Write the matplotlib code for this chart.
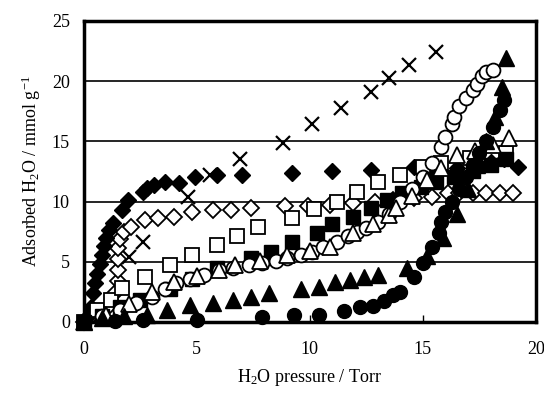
import matplotlib
matplotlib.use("Agg")
import matplotlib.pyplot as plt

plt.rcParams['font.family'] = ['Liberation Serif', 'DejaVu Serif']
plt.rcParams['mathtext.fontset'] = 'custom'
plt.rcParams['mathtext.rm'] = 'Liberation Serif'
plt.rcParams['mathtext.it'] = 'Liberation Serif:italic'

# crosses
cross_x = [2.0, 2.6, 4.6, 5.6, 6.9, 8.8, 10.1, 11.4, 12.7, 13.5, 14.4, 15.6]
cross_y = [5.4, 6.6, 10.4, 12.2, 13.5, 14.9, 16.4, 17.8, 19.1, 20.3, 21.3, 22.4]

# filled diamonds
fd_x = [0.1, 0.3, 0.4, 0.5, 0.6, 0.7, 0.8, 0.9, 1.0, 1.1, 1.3, 1.7, 1.95, 2.6, 2.8, 3.1,
        3.6, 4.2, 4.9, 5.9, 7.0, 9.2, 11.0, 12.7, 14.6, 15.5, 16.5, 17.5, 18.0, 18.6, 19.2]
fd_y = [0.3, 1.2, 2.4, 3.2, 4.0, 4.8, 5.6, 6.3, 7.0, 7.6, 8.2, 9.3, 10.1, 10.8, 11.1, 11.4,
        11.6, 11.5, 12.0, 12.2, 12.2, 12.4, 12.5, 12.6, 12.9, 12.5, 12.8, 13.0, 13.3, 13.5, 12.9]

# open diamonds
od_x = [0.0, 0.3, 0.7, 1.1, 1.4, 1.5, 1.5, 1.5, 1.5, 1.6, 1.8, 2.1, 2.7, 3.3, 4.0, 4.8, 5.7,
        6.5, 7.4, 8.9, 9.9, 10.9, 11.9, 12.9, 13.7, 14.6, 15.4, 16.1, 16.6, 17.2, 17.8, 18.4, 19.0]
od_y = [0.0, 0.5, 0.8, 1.3, 2.4, 3.4, 4.3, 5.2, 6.1, 6.9, 7.5, 7.9, 8.5, 8.6, 8.7, 9.1, 9.3,
        9.3, 9.5, 9.6, 9.6, 9.7, 9.9, 10.0, 10.1, 10.3, 10.4, 10.7, 10.7, 10.7, 10.7, 10.7, 10.7]

# open squares
os_x = [0.0, 0.6, 1.2, 1.7, 2.7, 3.8, 4.8, 5.9, 6.8, 7.7, 9.2, 10.2, 11.2, 12.1, 13.0, 14.0,
        15.0, 15.8, 17.1, 18.7]
os_y = [0.0, 1.0, 1.8, 2.8, 3.7, 4.7, 5.6, 6.4, 7.1, 7.9, 8.6, 9.4, 10.0, 10.8, 11.6, 12.2,
        12.9, 13.2, 13.6, 14.0]

# filled squares
fs_x = [0.0, 0.8, 1.6, 2.5, 3.8, 4.8, 5.9, 7.4, 8.3, 9.2, 10.3, 11.0, 11.9, 12.7, 13.4, 14.1,
        14.9, 15.6, 16.4, 17.2, 18.0, 18.7]
fs_y = [0.0, 0.5, 1.2, 1.8, 2.7, 3.6, 4.5, 5.3, 5.8, 6.6, 7.4, 8.1, 8.7, 9.5, 10.1, 10.7,
        11.2, 11.6, 12.0, 12.5, 13.0, 13.5]

# open triangles
ot_x = [0.0, 1.0, 2.0, 3.0, 4.0, 5.0, 6.0, 6.7, 7.8, 9.0, 10.0, 10.9, 11.9, 12.8, 13.5, 13.8,
        14.5, 15.2, 15.8, 16.5, 17.3, 18.1, 18.8]
ot_y = [0.0, 0.6, 1.5, 2.5, 3.3, 3.8, 4.3, 4.7, 5.1, 5.6, 5.9, 6.2, 7.4, 8.1, 8.9, 9.5,
        10.5, 11.8, 12.8, 13.9, 14.2, 14.7, 15.3]

# open circles
oc_x = [0.0, 0.8, 1.6, 2.3, 3.0, 3.6, 4.1, 4.7, 5.3, 6.0, 6.6, 7.3, 7.9, 8.5, 9.0, 9.6, 10.1,
        10.6, 11.2, 11.7, 12.1, 12.5, 13.0, 13.5, 14.0, 14.5, 15.0, 15.4, 15.8, 16.0, 16.3,
        16.4, 16.6, 16.9, 17.2, 17.4, 17.6, 17.8, 18.1]
oc_y = [0.0, 0.5, 1.0, 1.6, 2.1, 2.7, 3.2, 3.6, 3.9, 4.3, 4.5, 4.7, 4.9, 5.1, 5.3, 5.6, 5.8,
        6.2, 6.6, 7.1, 7.5, 7.8, 8.3, 9.0, 10.0, 11.0, 12.0, 13.2, 14.5, 15.4, 16.4,
        17.0, 17.9, 18.6, 19.3, 19.8, 20.4, 20.8, 20.9]

# filled triangles
ft_x = [0.0, 0.8, 1.8, 2.8, 3.7, 4.7, 5.7, 6.6, 7.4, 8.2, 9.6, 10.4, 11.1, 11.8, 12.4, 13.0,
        14.3, 15.2, 15.9, 16.5, 17.0, 17.4, 17.8, 18.2, 18.5, 18.7]
ft_y = [0.0, 0.3, 0.5, 0.6, 1.0, 1.4, 1.6, 1.8, 2.1, 2.4, 2.7, 2.9, 3.3, 3.5, 3.7, 3.9,
        4.5, 5.5, 7.0, 9.0, 11.0, 13.0, 15.0, 17.0, 19.5, 21.9]

# filled circles
fc_x = [0.0, 1.4, 2.6, 5.0, 7.9, 9.3, 10.4, 11.5, 12.2, 12.8, 13.3, 13.7, 14.0, 14.6, 15.0,
        15.4, 15.7, 15.8, 16.0, 16.3, 16.6, 16.9, 17.2, 17.5, 17.8, 18.1, 18.4, 18.6]
fc_y = [0.0, 0.1, 0.2, 0.2, 0.4, 0.6, 0.6, 0.9, 1.2, 1.3, 1.7, 2.2, 2.5, 3.7, 4.9,
        6.2, 7.4, 8.3, 9.1, 10.0, 11.0, 12.0, 13.0, 14.0, 15.0, 16.2, 17.6, 18.4]

fig = plt.figure(figsize=(5.44, 3.95), dpi=100)
ax = fig.add_axes([0.154, 0.185, 0.831, 0.762])

for yv in [5, 10, 15, 20]:
    ax.axhline(yv, color='black', lw=1.2, zorder=0)

mew = 1.3
ax.plot(cross_x, cross_y, 'x', ms=10, mew=1.6, color='black', clip_on=False)
ax.plot(od_x, od_y, 'D', ms=8.5, mfc='white', mec='black', mew=mew, clip_on=False)
ax.plot(fd_x, fd_y, 'D', ms=8.5, color='black', clip_on=False)
ax.plot(os_x, os_y, 's', ms=10, mfc='white', mec='black', mew=mew, clip_on=False)
ax.plot(fs_x, fs_y, 's', ms=10, color='black', clip_on=False)
ax.plot(oc_x, oc_y, 'o', ms=10, mfc='white', mec='black', mew=mew, clip_on=False)
ax.plot(ot_x, ot_y, '^', ms=11, mfc='white', mec='black', mew=mew, clip_on=False)
ax.plot(ft_x, ft_y, '^', ms=11, color='black', clip_on=False)
ax.plot(fc_x, fc_y, 'o', ms=10, color='black', clip_on=False)

ax.set_xlim(0, 20)
ax.set_ylim(0, 25)
ax.set_xticks([0, 5, 10, 15, 20])
ax.set_yticks([0, 5, 10, 15, 20, 25])
ax.tick_params(axis='x', direction='in', length=5, width=1, labelsize=13, pad=14)
ax.tick_params(axis='y', length=0, labelsize=13, pad=10)
for s in ax.spines.values():
    s.set_linewidth(2.5)

ax.set_xlabel('H$_2$O pressure / Torr', fontsize=13, labelpad=6)
ax.set_ylabel('Adsorbed H$_2$O / mmol g$^{-1}$', fontsize=13, labelpad=6)

fig.savefig('out.png', dpi=100)
